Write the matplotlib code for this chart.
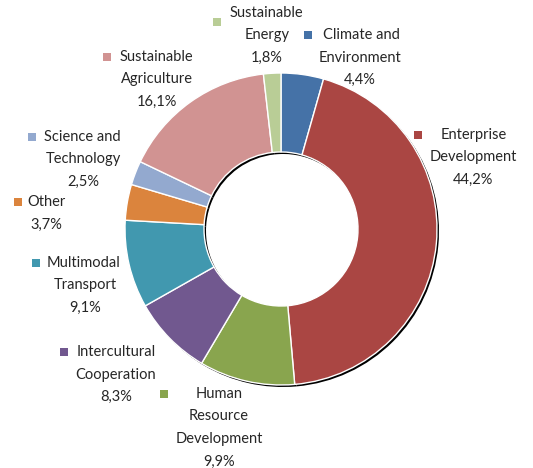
import matplotlib
matplotlib.use('Agg')
import matplotlib.pyplot as plt

# Данные диаграммы
categories = ['Climate and\nEnvironment', 'Enterprise\nDevelopment', 'Human\nResource\nDevelopment',
              'Intercultural\nCooperation', 'Multimodal\nTransport', 'Other',
              'Science and\nTechnology', 'Sustainable\nAgriculture', 'Sustainable\nEnergy']
shares = [4.4, 44.2, 9.9, 8.3, 9.1, 3.7, 2.5, 16.1, 1.8]
colors = ['#4572A7', '#AA4643', '#89A54E', '#71588F', '#4198AF',
          '#DB843D', '#93A9CF', '#D19392', '#B9CD96']

# Размер рисунка в пикселях
W, H = 533, 468
cx, cy = 281, 229      # центр кольца (пиксели от верхнего края)
R = 156
ring = 79

# Положение подписей: центр блока текста, y первой строки, позиция маркера
label_pos = [(360, 35, 308, 35),
             (473, 135, 418, 135),
             (219, 394, 164, 394),
             (116, 352, 64, 352),
             (85, 263, 36, 263),
             (46, 202, 18, 202),
             (83, 137, 32, 137),
             (157, 57, 107, 57),
             (267, 13, 217, 22)]
first_line_x = [361, 474, 219, 116, 84, 47, 82, 156, 266]

plt.rcParams['font.family'] = ['Lato', 'DejaVu Sans']

fig = plt.figure(figsize=(W / 100, H / 100), dpi=100)
ax = fig.add_axes([0, 0, 1, 1])
ax.set_xlim(0, W)
ax.set_ylim(0, H)
ax.set_aspect('equal')
ax.axis('off')

# Тень кольца
ax.pie(shares, colors=['#000000'] * len(shares), radius=R, center=(cx + 2, H - cy - 2),
       startangle=90, counterclock=False,
       wedgeprops=dict(width=ring, edgecolor='none'), frame=True)

ax.pie(shares, colors=colors, radius=R, center=(cx, H - cy),
       startangle=90, counterclock=False,
       wedgeprops=dict(width=ring, edgecolor='white', linewidth=1), frame=True)
ax.set_xlim(0, W)
ax.set_ylim(0, H)
ax.axis('off')

line_h = 22.5
for name, val, col, (tx, ty, mx, my), fx in zip(categories, shares, colors, label_pos, first_line_x):
    lines = name.split('\n') + [f'{val:.1f}%'.replace('.', ',')]
    for i, ln in enumerate(lines):
        x = fx if i == 0 else tx
        ax.text(x, H - (ty + i * line_h), ln, ha='center', va='center',
                fontsize=10.5, color='#262626')
    ax.scatter([mx], [H - my], marker='s', s=38, color=col, linewidths=0)

fig.savefig('out.png', dpi=100)
